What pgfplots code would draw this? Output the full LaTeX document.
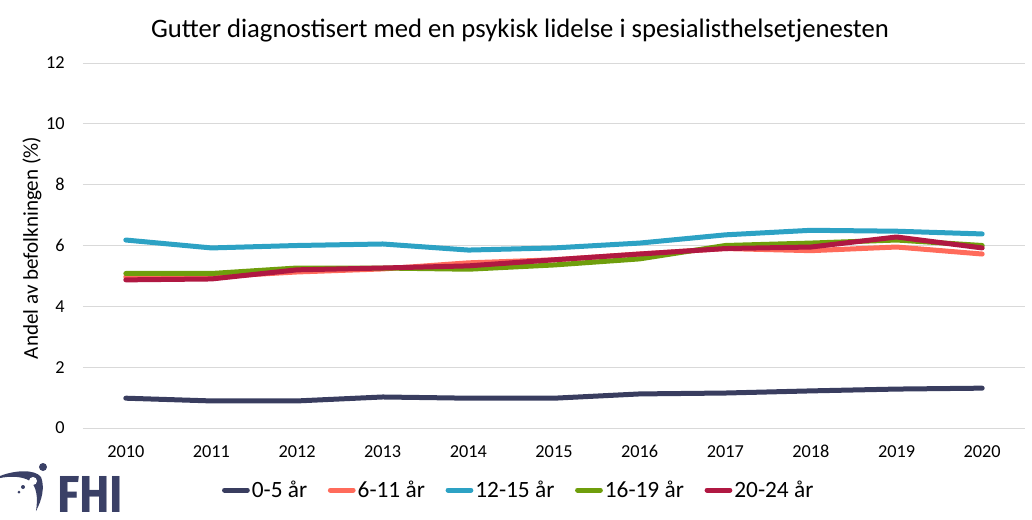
\documentclass[border=0pt]{standalone}
\usepackage{fontspec}
\setmainfont{Carlito}
\newfontfamily\logofont{Fira Sans}
\usepackage{pgfplots}
\pgfplotsset{compat=1.18}

\definecolor{cA}{HTML}{393D5F}
\definecolor{cB}{HTML}{FF6B5B}
\definecolor{cC}{HTML}{2DA2C4}
\definecolor{cD}{HTML}{6F9E0C}
\definecolor{cE}{HTML}{B01842}
\definecolor{gridgray}{HTML}{D9D9D9}
\definecolor{logoblue}{HTML}{3A4066}

\begin{document}
\begin{tikzpicture}
% picture is 1032 x 519 px, 1 px = 0.75pt; axis box lower left at px (83,428)
\useasboundingbox (-62.25pt,-68.25pt) rectangle (711.75pt,321pt);
\begin{axis}[
    at={(0,0)}, anchor=south west,
    scale only axis,
    width=706.5pt, height=273.75pt,
    xmin=2009.5, xmax=2020.5,
    ymin=0, ymax=12,
    xtick={2010,2011,...,2020},
    ytick={0,2,...,12},
    axis line style={draw=none},
    ymajorgrids,
    grid style={draw=gridgray, line width=0.75pt},
    major tick length=0pt,
    /pgf/number format/assume math mode=true,
    /pgf/number format/1000 sep={},
    ticklabel style={font=\fontsize{13.7}{16}\selectfont, inner sep=0pt},
    xticklabel style={anchor=base, yshift=-21.75pt},
    yticklabel style={anchor=east, xshift=-13.5pt},
    clip=false,
    legend style={
        at={(0.1476,-0.17)}, anchor=west,
        draw=none, fill=none, inner sep=0pt, outer sep=0pt,
        font=\fontsize{17.5}{20}\selectfont,
        legend columns=5,
        /tikz/every even column/.append style={column sep=14pt},
        nodes={inner sep=1.5pt},
    },
    legend image code/.code={
        \draw[line width=3.75pt, line cap=round] (1.9pt,0pt) -- (19pt,0pt);
    },
    every axis plot/.append style={line width=3.75pt, line join=round, line cap=round},
]
% 0-5 år
\addplot[cA] coordinates {
 (2010,0.98) (2011,0.89) (2012,0.89) (2013,1.02) (2014,0.98) (2015,0.98)
 (2016,1.12) (2017,1.15) (2018,1.22) (2019,1.28) (2020,1.31)};
% 6-11 år
\addplot[cB] coordinates {
 (2010,4.97) (2011,4.97) (2012,5.13) (2013,5.23) (2014,5.43) (2015,5.53)
 (2016,5.72) (2017,5.90) (2018,5.83) (2019,5.95) (2020,5.72)};
% 12-15 år
\addplot[cC] coordinates {
 (2010,6.18) (2011,5.92) (2012,6.00) (2013,6.05) (2014,5.85) (2015,5.92)
 (2016,6.08) (2017,6.35) (2018,6.50) (2019,6.47) (2020,6.38)};
% 16-19 år
\addplot[cD] coordinates {
 (2010,5.08) (2011,5.08) (2012,5.26) (2013,5.26) (2014,5.22) (2015,5.36)
 (2016,5.56) (2017,6.00) (2018,6.08) (2019,6.18) (2020,6.00)};
% 20-24 år
\addplot[cE] coordinates {
 (2010,4.87) (2011,4.90) (2012,5.20) (2013,5.26) (2014,5.33) (2015,5.53)
 (2016,5.72) (2017,5.90) (2018,5.95) (2019,6.28) (2020,5.92)};
\legend{0-5 år, 6-11 år, 12-15 år, 16-19 år, 20-24 år}
\end{axis}

% title, y label and logo, placed in px of the reference
\begin{scope}[x=0.75pt, y=-0.75pt, shift={(-83,-428)}]
\node[anchor=base, font=\fontsize{20}{24}\selectfont, inner sep=0pt]
    at (520,37) {Gutter diagnostisert med en psykisk lidelse i spesialisthelsetjenesten};
\node[anchor=base, rotate=90, font=\fontsize{15.8}{18}\selectfont, inner sep=0pt]
    at (38,248) {Andel av befolkningen (\%)};
% FHI logo
\fill[logoblue] (0,476) .. controls (15,470) and (35,469) .. (41,477)
    .. controls (45,487) and (42,500) .. (36,511)
    .. controls (38,498) and (37,487) .. (30,481)
    .. controls (22,476) and (10,476) .. (0,478) -- cycle;
\fill[white] (33,481) circle (4);
\fill[logoblue] (43,467) circle (4);
\fill[logoblue] (23,487) circle (2);
\fill[logoblue] (19,492) circle (1.5);
\node[anchor=base west, inner sep=0pt, xscale=0.88, text=logoblue,
    font=\logofont\bfseries\fontsize{39}{42}\selectfont] at (57,512) {FHI};
\end{scope}
\end{tikzpicture}
\end{document}
